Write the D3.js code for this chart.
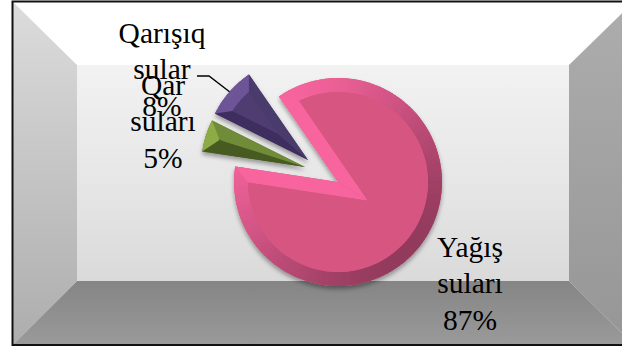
<!DOCTYPE html>
<html>
<head>
<meta charset="utf-8">
<script src="https://cdn.jsdelivr.net/npm/d3@7"></script>
<style>
  html, body { margin: 0; padding: 0; background: #fff; overflow: hidden; }
</style>
</head>
<body>
<div id="chart"></div>
<script>
const categories = ["Yağış suları", "Qar suları", "Qarışıq sular"];
const shares = [87, 5, 8];
const labelLines = [["Yağış", "suları", "87%"], ["Qar", "suları", "5%"], ["Qarışıq", "sular", "8%"]];

const W = 622, H = 349;
// the frame runs past the right side of the picture, as in the source
const frame = { left: 12.5, top: 1.5, right: 634, bottom: 345 };
const panel = { left: 77, top: 65, right: 569, bottom: 281 };

const center = [338, 182];
const radius = 104;
const innerRadius = [90, 90, 90];
const startDeg = -34.6;
const explode = [[0, 0], [-33, -15], [-30, -22]];
const edgeWidth = [14, 13.5, 10];
const palettes = [
  { face: "#d75681", light: "#f8659e", dark: "#923a5c", lower: "#f8659e", upper: "#f8659e" },
  { face: "#56692f", light: "#8fae45", dark: "#6f8c38", lower: "#465a22", upper: "#6f8c38" },
  { face: "#4f3d72", light: "#6d5498", dark: "#5a4585", lower: "#3e2f5e", upper: "#4a3a6c" }
];
const labelPos = [[470, 257], [163, 95], [162, 43]];
const lineStep = 36.3;

const svg = d3.select("#chart").append("svg").attr("width", W).attr("height", H).style("display", "block");
const defs = svg.append("defs");

function vGrad(id, stops) {
  const g = defs.append("linearGradient").attr("id", id).attr("x1", 0).attr("y1", 0).attr("x2", 0).attr("y2", 1);
  stops.forEach(s => g.append("stop").attr("offset", s[0]).attr("stop-color", s[1]));
}
vGrad("panelFill", [[0, "#f2f2f2"], [0.55, "#e6e6e6"], [1, "#dadada"]]);
vGrad("leftFill", [[0, "#dcdcdc"], [1, "#adadad"]]);
vGrad("rightFill", [[0, "#adadad"], [1, "#969696"]]);
vGrad("bottomFill", [[0, "#858585"], [1, "#9a9a9a"]]);

const soft = defs.append("filter").attr("id", "soft").attr("x", "-20%").attr("y", "-20%").attr("width", "140%").attr("height", "140%");
soft.append("feDropShadow").attr("dx", 0).attr("dy", 3).attr("stdDeviation", 2.2).attr("flood-color", "#000").attr("flood-opacity", 0.35);

// frame bands
const bands = [
  [[frame.left, frame.top], [frame.right, frame.top], [panel.right, panel.top], [panel.left, panel.top], "#ffffff"],
  [[frame.left, frame.top], [panel.left, panel.top], [panel.left, panel.bottom], [frame.left, frame.bottom], "url(#leftFill)"],
  [[frame.right, frame.top], [panel.right, panel.top], [panel.right, panel.bottom], [frame.right, frame.bottom], "url(#rightFill)"],
  [[frame.left, frame.bottom], [panel.left, panel.bottom], [panel.right, panel.bottom], [frame.right, frame.bottom], "url(#bottomFill)"]
];
svg.selectAll("path.band").data(bands).join("path")
  .attr("class", "band")
  .attr("d", d => d3.line()(d.slice(0, 4)) + "Z")
  .attr("fill", d => d[4]);
svg.append("rect")
  .attr("x", panel.left).attr("y", panel.top)
  .attr("width", panel.right - panel.left).attr("height", panel.bottom - panel.top)
  .attr("fill", "url(#panelFill)");
svg.append("rect")
  .attr("x", frame.left).attr("y", frame.top)
  .attr("width", frame.right - frame.left).attr("height", frame.bottom - frame.top)
  .attr("fill", "none").attr("stroke", "#111").attr("stroke-width", 2);

// pie
const pie = d3.pie().sort(null)
  .startAngle(startDeg * Math.PI / 180)
  .endAngle((startDeg + 360) * Math.PI / 180);
const slices = pie(shares);
const polar = (c, r, a) => [c[0] + r * Math.sin(a), c[1] - r * Math.cos(a)];

// light from upper left, shade toward lower right
const shade = (p, a) => {
  const t = (Math.cos(a + Math.PI / 4) + 1) / 2;
  return d3.interpolateRgb(p.dark, p.light)(t);
};

function sectorPath(c, apex, r, a0, a1) {
  const p0 = polar(c, r, a0), p1 = polar(c, r, a1);
  const large = a1 - a0 > Math.PI ? 1 : 0;
  return `M${apex}L${p0}A${r},${r} 0 ${large} 1 ${p1}Z`;
}

slices.forEach((d, i) => {
  const p = palettes[i];
  const c = [center[0] + explode[i][0], center[1] + explode[i][1]];
  const b = edgeWidth[i];
  const r2 = innerRadius[i];
  const half = (d.endAngle - d.startAngle) / 2;
  const mid = d.startAngle + half;
  const apexIn = polar(c, b / Math.sin(half), mid);
  const inset = Math.asin(b / r2);
  const g = svg.append("g").attr("filter", "url(#soft)");

  // base
  g.append("path").attr("d", sectorPath(c, c, radius, d.startAngle, d.endAngle)).attr("fill", p.face);

  // rim, cut in short steps so the shade follows the angle
  const rim = d3.arc().innerRadius(r2).outerRadius(radius);
  d3.range(d.startAngle, d.endAngle, 2 * Math.PI / 180).forEach(a => {
    g.append("path")
      .attr("transform", `translate(${c})`)
      .attr("d", rim({ startAngle: a, endAngle: Math.min(a + 2.4 * Math.PI / 180, d.endAngle) }))
      .attr("fill", shade(p, a));
  });

  // straight edges
  const startEdge = [c, polar(c, radius, d.startAngle), polar(c, r2, d.startAngle + inset), apexIn];
  const endEdge = [c, polar(c, radius, d.endAngle), polar(c, r2, d.endAngle - inset), apexIn];
  g.append("path").attr("d", d3.line()(startEdge) + "Z").attr("fill", i === 0 ? p.upper : p.lower);
  g.append("path").attr("d", d3.line()(endEdge) + "Z").attr("fill", i === 0 ? p.lower : p.upper);

  // flat top
  g.append("path").attr("d", sectorPath(c, apexIn, r2, d.startAngle + inset, d.endAngle - inset)).attr("fill", p.face);
});

// leader line for the purple slice
const leaderAnchor = polar([center[0] + explode[2][0], center[1] + explode[2][1]], radius, (slices[2].startAngle + slices[2].endAngle) / 2);
svg.append("path")
  .attr("d", d3.line()([[197, 76], [209, 76], leaderAnchor]))
  .attr("fill", "none").attr("stroke", "#000").attr("stroke-width", 1.4);

// labels
labelLines.forEach((lines, i) => {
  const t = svg.append("text")
    .attr("text-anchor", "middle")
    .style("font-family", "'Liberation Serif', 'Times New Roman', serif")
    .style("font-size", "29.5px")
    .attr("fill", "#000");
  lines.forEach((s, j) => {
    t.append("tspan").attr("x", labelPos[i][0]).attr("y", labelPos[i][1] + j * lineStep).text(s);
  });
});
</script>
</body>
</html>
